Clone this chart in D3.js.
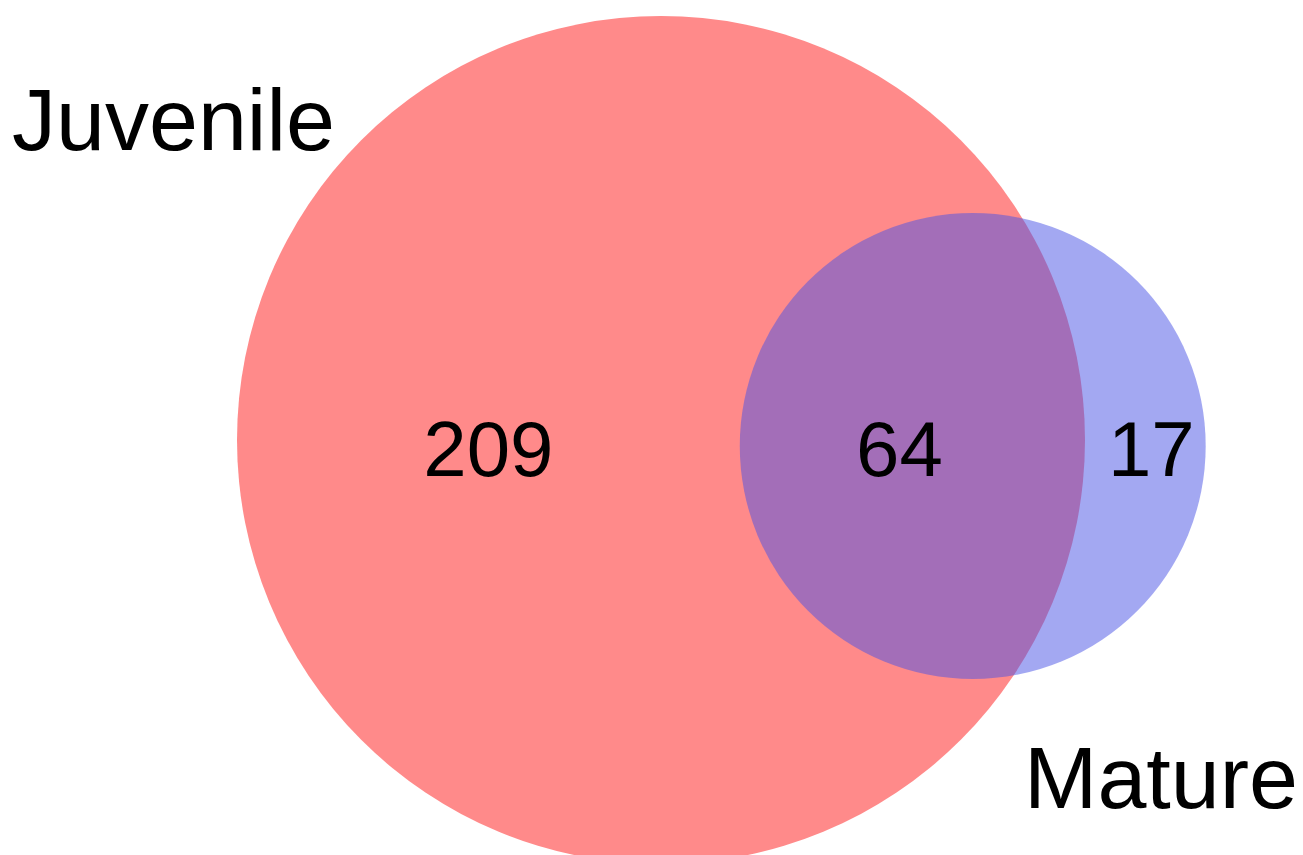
<!DOCTYPE html>
<html>
<head>
<meta charset="utf-8">
<script src="https://cdn.jsdelivr.net/npm/d3@7"></script>
<style>
  html, body { margin: 0; padding: 0; background: #fff; }
  svg { display: block; }
</style>
</head>
<body>
<svg id="chart" width="1303" height="855"></svg>
<script>
// set names and counts
var setNames = ["Juvenile", "Mature"];
var onlyCounts = [209, 17];
var overlapCount = 64;
var setColors = ["#ff8a8a", "rgb(75,84,229)"];
var setOpacity = [1, 0.51];

var width = 1303, height = 855;
var svg = d3.select("#chart");

var totals = [onlyCounts[0] + overlapCount, onlyCounts[1] + overlapCount];

// radius from set size (area proportional)
var rScale = d3.scaleSqrt()
    .domain([0, d3.max(totals)])
    .range([0, 424]);

var r1 = rScale(totals[0]),
    r2 = rScale(totals[1]) + 2;

// area of intersection of two circles at distance d
function lensArea(R, r, d) {
    if (d >= R + r) return 0;
    if (d <= Math.abs(R - r)) return Math.PI * Math.min(R, r) * Math.min(R, r);
    var a = (d * d + R * R - r * r) / (2 * d),
        b = d - a;
    var segR = R * R * Math.acos(a / R) - a * Math.sqrt(R * R - a * a);
    var segr = r * r * Math.acos(b / r) - b * Math.sqrt(r * r - b * b);
    return segR + segr;
}

// find center distance so the overlap area matches the count
var targetArea = Math.PI * r1 * r1 * overlapCount / totals[0];
var lo = Math.abs(r1 - r2), hi = r1 + r2;
for (var k = 0; k < 60; k++) {
    var mid = (lo + hi) / 2;
    if (lensArea(r1, r2, mid) > targetArea) lo = mid; else hi = mid;
}
var dist = (lo + hi) / 2 + 12;

var angle = Math.atan2(6, 310);
var c1 = [661, 440];
var c2 = [c1[0] + dist * Math.cos(angle), c1[1] + dist * Math.sin(angle)];

var circles = [
    {name: setNames[0], cx: c1[0], cy: c1[1], r: r1, color: setColors[0], op: setOpacity[0]},
    {name: setNames[1], cx: c2[0], cy: c2[1], r: r2, color: setColors[1], op: setOpacity[1]}
];

svg.selectAll("circle.set")
    .data(circles)
    .enter().append("circle")
    .attr("class", "set")
    .attr("cx", function(d) { return d.cx; })
    .attr("cy", function(d) { return d.cy; })
    .attr("r", function(d) { return d.r; })
    .attr("fill", function(d) { return d.color; })
    .attr("fill-opacity", function(d) { return d.op; });

// count labels placed along the line through the centers
var leftEdge1 = c1[0] - r1,
    rightEdge1 = c1[0] + r1,
    leftEdge2 = c2[0] - r2,
    rightEdge2 = c2[0] + r2;

var counts = [
    {text: onlyCounts[0], x: (leftEdge1 + leftEdge2) / 2},
    {text: overlapCount, x: (leftEdge2 + rightEdge1) / 2 - 13},
    {text: onlyCounts[1], x: (rightEdge1 + rightEdge2) / 2 + 6}
];

svg.selectAll("text.count")
    .data(counts)
    .enter().append("text")
    .attr("class", "count")
    .attr("x", function(d) { return d.x; })
    .attr("y", 476)
    .attr("text-anchor", "middle")
    .attr("font-family", "Liberation Sans, Arial, sans-serif")
    .attr("font-size", 78)
    .attr("fill", "#000")
    .text(function(d) { return d.text; });

// set name labels
svg.append("text")
    .attr("x", 12)
    .attr("y", 150)
    .attr("font-family", "Liberation Sans, Arial, sans-serif")
    .attr("font-size", 88)
    .attr("fill", "#000")
    .text(setNames[0]);

svg.append("text")
    .attr("x", 1298)
    .attr("y", 808)
    .attr("text-anchor", "end")
    .attr("font-family", "Liberation Sans, Arial, sans-serif")
    .attr("font-size", 88)
    .attr("fill", "#000")
    .text(setNames[1]);
</script>
</body>
</html>
